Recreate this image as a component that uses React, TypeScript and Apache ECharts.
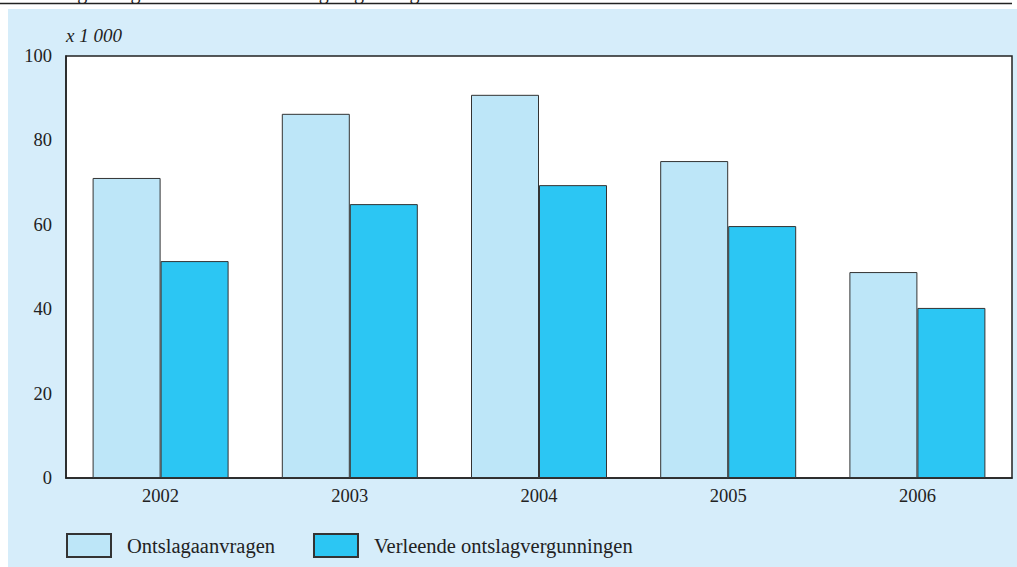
import React, { useEffect, useRef } from "react";
import * as echarts from "echarts";

const years = ["2002", "2003", "2004", "2005", "2006"];
const aanvragen = [71.1, 86.3, 90.8, 75.1, 48.8];
const vergunningen = [51.4, 64.9, 69.4, 59.7, 40.3];
const seriesNames = ["Ontslagaanvragen", "Verleende ontslagvergunningen"];
const titleText = "2.6    Aangevraagde en verleende ontslagvergunningen CWI";
const unitText = "x 1 000";

const FONT = "'Liberation Serif', 'DejaVu Serif', serif";

export default function App() {
  const ref = useRef<HTMLDivElement>(null);
  useEffect(() => {
    const chart = echarts.init(ref.current!, null, { renderer: "svg" });
    chart.setOption({
      animation: false,
      backgroundColor: "#ffffff",
      textStyle: { fontFamily: FONT },
      graphic: [
        {
          type: "rect",
          z: -10,
          shape: { x: 8, y: 9, width: 1009, height: 558 },
          style: { fill: "#d6edfa" },
        },
        {
          type: "text",
          x: 0,
          y: 2,
          style: {
            text: titleText,
            font: `20px ${FONT}`,
            fill: "#222",
            textVerticalAlign: "bottom",
          },
        },
        {
          type: "line",
          shape: { x1: 0, y1: 3.5, x2: 1012, y2: 3.5 },
          style: { stroke: "#222", lineWidth: 1.5 },
        },
        {
          type: "text",
          x: 66,
          y: 35,
          style: {
            text: unitText,
            font: `italic 19px ${FONT}`,
            fill: "#222",
            textVerticalAlign: "middle",
          },
        },
      ],
      grid: {
        left: 66,
        top: 56,
        right: 5,
        bottom: 89,
        show: true,
        backgroundColor: "#ffffff",
        borderColor: "#222",
        borderWidth: 1.5,
      },
      legend: {
        left: 66,
        top: 533,
        padding: 0,
        itemWidth: 44,
        itemHeight: 23,
        itemGap: 38,
        icon: "rect",
        data: seriesNames,
        textStyle: {
          fontFamily: FONT,
          fontSize: 20.5,
          color: "#222",
          padding: [0, 0, 0, 11],
        },
      },
      xAxis: {
        type: "category",
        data: years,
        axisLine: { show: true, lineStyle: { color: "#222", width: 1.5 } },
        axisTick: { show: false },
        axisLabel: { fontFamily: FONT, fontSize: 18.5, color: "#222", margin: 8 },
      },
      yAxis: {
        type: "value",
        min: 0,
        max: 100,
        interval: 20,
        splitLine: { show: false },
        axisLine: { show: true, lineStyle: { color: "#222", width: 1.5 } },
        axisTick: { show: false },
        axisLabel: { fontFamily: FONT, fontSize: 18.5, color: "#222", margin: 14 },
      },
      series: [
        {
          name: seriesNames[0],
          type: "bar",
          data: aanvragen,
          barWidth: 68,
          barGap: "0%",
          itemStyle: { color: "#bde6f8", borderColor: "#333", borderWidth: 1 },
        },
        {
          name: seriesNames[1],
          type: "bar",
          data: vergunningen,
          barWidth: 68,
          barGap: "0%",
          itemStyle: { color: "#2cc6f3", borderColor: "#333", borderWidth: 1 },
        },
      ],
    });
    return () => chart.dispose();
  }, []);
  return (
    <div
      ref={ref}
      style={{ position: "fixed", left: 0, top: 0, width: 1017, height: 567 }}
    />
  );
}
